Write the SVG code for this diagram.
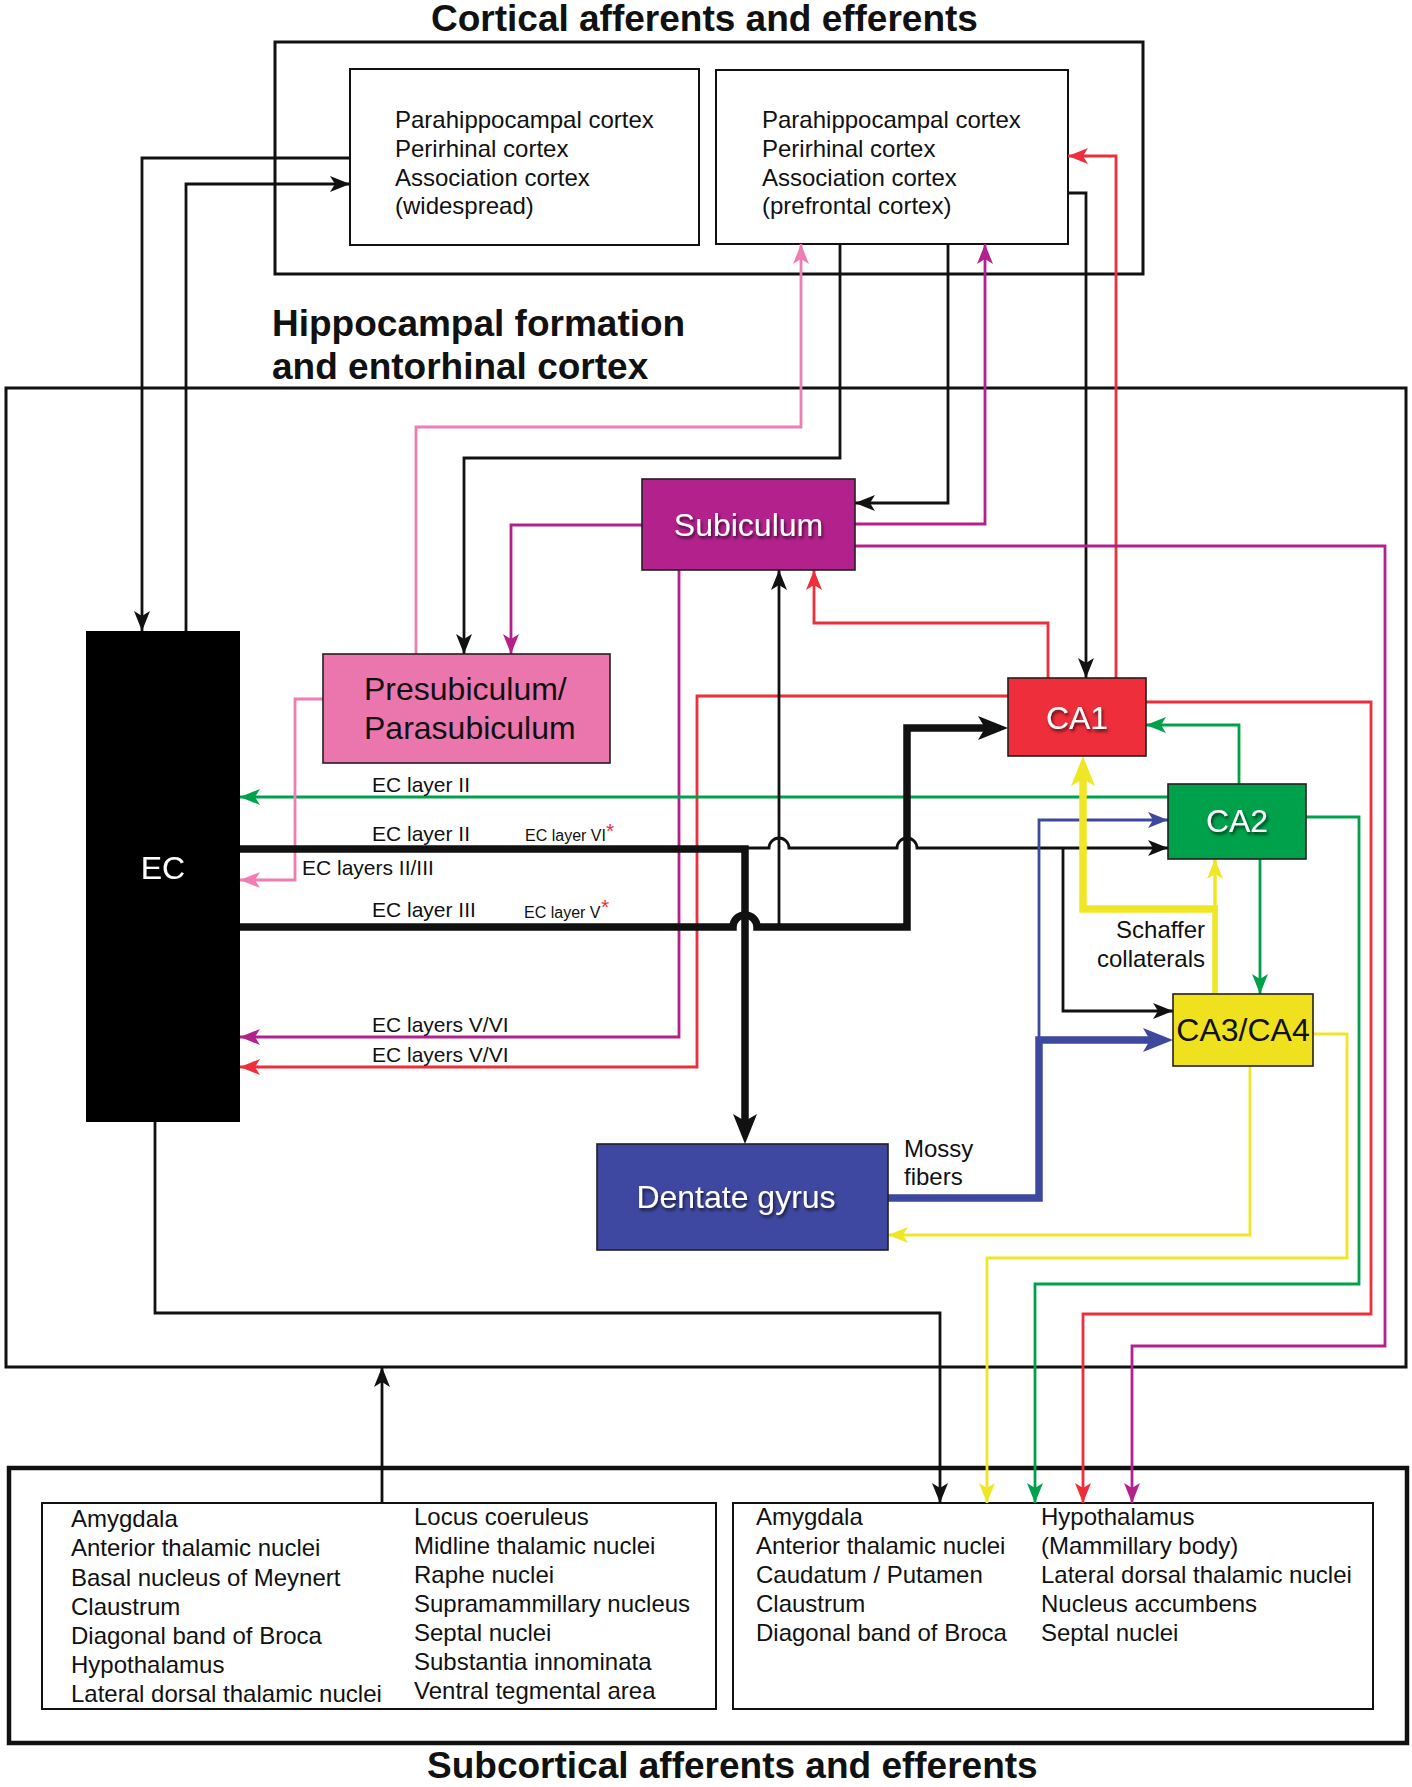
<svg xmlns="http://www.w3.org/2000/svg" width="1412" height="1787" viewBox="0 0 1412 1787">
<style>
.t{font-family:"Liberation Sans",Arial,Helvetica,sans-serif;fill:#111}
.title{font-size:37px;font-weight:bold}
.body{font-size:24px}
.lab{font-size:21px}
.sm{font-size:16px}
.ast{font-size:21px;fill:#EE2E3B}
.nd{font-size:32px}
.wt{fill:#fff;filter:url(#sh)}
.frame{fill:none;stroke:#111}
.ln{fill:none;stroke-width:2.8;stroke-linejoin:miter;stroke-linecap:butt}
.w7{stroke-width:7.5}
.w55{stroke-width:5.5}
.w35{stroke-width:3.5}
.k{stroke:#111}.r{stroke:#EE2E3B}.g{stroke:#00A14B}.p{stroke:#B3218C}.pk{stroke:#EE7DB4}.y{stroke:#F0E626}.b{stroke:#3E489E}
.nb{stroke:#231F20;stroke-width:1.6}
</style>
<defs>
<filter id="sh" x="-20%" y="-20%" width="140%" height="160%"><feDropShadow dx="1.5" dy="2.5" stdDeviation="1.4" flood-color="#000" flood-opacity="0.65"/></filter>
<marker id="aK" viewBox="0 0 20 16" refX="20" refY="8" markerWidth="20" markerHeight="16" markerUnits="userSpaceOnUse" orient="auto"><path d="M0,0 L20,8 L0,16 L5,8 z" fill="#111"/></marker>
<marker id="aR" viewBox="0 0 20 16" refX="20" refY="8" markerWidth="20" markerHeight="16" markerUnits="userSpaceOnUse" orient="auto"><path d="M0,0 L20,8 L0,16 L5,8 z" fill="#EE2E3B"/></marker>
<marker id="aG" viewBox="0 0 20 16" refX="20" refY="8" markerWidth="20" markerHeight="16" markerUnits="userSpaceOnUse" orient="auto"><path d="M0,0 L20,8 L0,16 L5,8 z" fill="#00A14B"/></marker>
<marker id="aP" viewBox="0 0 20 16" refX="20" refY="8" markerWidth="20" markerHeight="16" markerUnits="userSpaceOnUse" orient="auto"><path d="M0,0 L20,8 L0,16 L5,8 z" fill="#B3218C"/></marker>
<marker id="aPk" viewBox="0 0 20 16" refX="20" refY="8" markerWidth="20" markerHeight="16" markerUnits="userSpaceOnUse" orient="auto"><path d="M0,0 L20,8 L0,16 L5,8 z" fill="#EE7DB4"/></marker>
<marker id="aY" viewBox="0 0 20 16" refX="20" refY="8" markerWidth="20" markerHeight="16" markerUnits="userSpaceOnUse" orient="auto"><path d="M0,0 L20,8 L0,16 L5,8 z" fill="#F0E626"/></marker>
<marker id="aB" viewBox="0 0 20 16" refX="20" refY="8" markerWidth="20" markerHeight="16" markerUnits="userSpaceOnUse" orient="auto"><path d="M0,0 L20,8 L0,16 L5,8 z" fill="#3E489E"/></marker>
<marker id="tK" viewBox="0 0 30 24" refX="8" refY="12" markerWidth="30" markerHeight="24" markerUnits="userSpaceOnUse" orient="auto"><path d="M0,0 L30,12 L0,24 L7,12 z" fill="#111"/></marker>
<marker id="tY" viewBox="0 0 30 24" refX="8" refY="12" markerWidth="30" markerHeight="24" markerUnits="userSpaceOnUse" orient="auto"><path d="M0,0 L30,12 L0,24 L7,12 z" fill="#F0E626"/></marker>
<marker id="tB" viewBox="0 0 30 24" refX="8" refY="12" markerWidth="30" markerHeight="24" markerUnits="userSpaceOnUse" orient="auto"><path d="M0,0 L30,12 L0,24 L7,12 z" fill="#3E489E"/></marker>
</defs>
<rect width="1412" height="1787" fill="#fff"/>

<g id="titles" class="t title">
<text x="431" y="31">Cortical afferents and efferents</text>
<text x="272" y="336">Hippocampal formation</text>
<text x="272" y="379">and entorhinal cortex</text>
<text x="427" y="1778">Subcortical afferents and efferents</text>
</g>

<g id="frames">
<rect class="frame" x="275" y="42" width="868" height="232" stroke-width="3"/>
<rect class="frame" x="6" y="388" width="1400" height="979" stroke-width="3"/>
<rect class="frame" x="9" y="1468" width="1398" height="275" stroke-width="4.5"/>
</g>

<g id="cortical-widespread">
<rect x="350" y="69" width="349" height="176" fill="#fff" stroke="#111" stroke-width="2"/>
<g class="t body">
<text x="395" y="128">Parahippocampal cortex</text>
<text x="395" y="157">Perirhinal cortex</text>
<text x="395" y="185.5">Association cortex</text>
<text x="395" y="214">(widespread)</text>
</g>
</g>

<g id="cortical-prefrontal">
<rect x="716" y="70" width="352" height="174" fill="#fff" stroke="#111" stroke-width="2"/>
<g class="t body">
<text x="762" y="128">Parahippocampal cortex</text>
<text x="762" y="157">Perirhinal cortex</text>
<text x="762" y="185.5">Association cortex</text>
<text x="762" y="214">(prefrontal cortex)</text>
</g>
</g>

<g id="subcortical-afferent">
<rect x="42" y="1503" width="674" height="206" fill="#fff" stroke="#111" stroke-width="2"/>
<g class="t body">
<text x="71" y="1527">Amygdala</text>
<text x="71" y="1556">Anterior thalamic nuclei</text>
<text x="71" y="1585.5">Basal nucleus of Meynert</text>
<text x="71" y="1614.5">Claustrum</text>
<text x="71" y="1644">Diagonal band of Broca</text>
<text x="71" y="1673">Hypothalamus</text>
<text x="71" y="1702">Lateral dorsal thalamic nuclei</text>
<text x="414" y="1525">Locus coeruleus</text>
<text x="414" y="1554">Midline thalamic nuclei</text>
<text x="414" y="1583">Raphe nuclei</text>
<text x="414" y="1612">Supramammillary nucleus</text>
<text x="414" y="1641">Septal nuclei</text>
<text x="414" y="1670">Substantia innominata</text>
<text x="414" y="1699">Ventral tegmental area</text>
</g>
</g>

<g id="subcortical-efferent">
<rect x="733" y="1503" width="640" height="206" fill="#fff" stroke="#111" stroke-width="2"/>
<g class="t body">
<text x="756" y="1525">Amygdala</text>
<text x="756" y="1554">Anterior thalamic nuclei</text>
<text x="756" y="1583">Caudatum / Putamen</text>
<text x="756" y="1612">Claustrum</text>
<text x="756" y="1641">Diagonal band of Broca</text>
<text x="1041" y="1525">Hypothalamus</text>
<text x="1041" y="1554">(Mammillary body)</text>
<text x="1041" y="1583">Lateral dorsal thalamic nuclei</text>
<text x="1041" y="1612">Nucleus accumbens</text>
<text x="1041" y="1641">Septal nuclei</text>
</g>
</g>

<g id="connectors">
<path class="ln k" d="M350,158 L142,158 L142,631" marker-end="url(#aK)"/>
<path class="ln k" d="M186,631 L186,184 L350,184" marker-end="url(#aK)"/>
<path class="ln k" d="M1068,193 L1086,193 L1086,678" marker-end="url(#aK)"/>
<path class="ln r" d="M1116,678 L1116,156 L1068,156" marker-end="url(#aR)"/>
<path class="ln k" d="M840,244 L840,458 L464,458 L464,654" marker-end="url(#aK)"/>
<path class="ln k" d="M948,244 L948,503 L855,503" marker-end="url(#aK)"/>
<path class="ln p" d="M855,524 L985,524 L985,244" marker-end="url(#aP)"/>
<path class="ln pk" d="M416,654 L416,427 L801,427 L801,244" marker-end="url(#aPk)"/>
<path class="ln p" d="M642,525 L511,525 L511,654" marker-end="url(#aP)"/>
<path class="ln p" d="M855,546 L1385,546 L1385,1346 L1132,1346 L1132,1503" marker-end="url(#aP)"/>
<path class="ln p" d="M679,570 L679,1037 L240,1037" marker-end="url(#aP)"/>
<path class="ln r" d="M1008,696 L697,696 L697,1067 L240,1067" marker-end="url(#aR)"/>
<path class="ln r" d="M1048,678 L1048,623 L814,623 L814,570" marker-end="url(#aR)"/>
<path class="ln r" d="M1146,702 L1371,702 L1371,1314 L1083,1314 L1083,1503" marker-end="url(#aR)"/>
<path class="ln g" d="M1168,797 L240,797" marker-end="url(#aG)"/>
<path class="ln g" d="M1239,784 L1239,725 L1146,725" marker-end="url(#aG)"/>
<path class="ln g" d="M1260,859 L1260,994" marker-end="url(#aG)"/>
<path class="ln g" d="M1306,817 L1359,817 L1359,1284 L1035,1284 L1035,1503" marker-end="url(#aG)"/>
<path class="ln pk" d="M323,699 L295,699 L295,880 L240,880" marker-end="url(#aPk)"/>
<path class="ln y" d="M1250,1066 L1250,1235 L888,1235" marker-end="url(#aY)"/>
<path class="ln y" d="M1313,1034 L1347,1034 L1347,1258 L987,1258 L987,1503" marker-end="url(#aY)"/>
<path class="ln k" d="M745,848 L769,848 A10,10 0 0 1 789,848 L897,848 A10,10 0 0 1 917,848 L1168,848" marker-end="url(#aK)"/>
<path class="ln k" d="M1063,848 L1063,1011 L1173,1011" marker-end="url(#aK)"/>
<path class="ln b" d="M1039,1040 L1039,820 L1168,820" marker-end="url(#aB)"/>
<path class="ln b w7" d="M888,1198 L1039,1198 L1039,1040 L1151,1040" marker-end="url(#tB)"/>
<path class="ln y w55" d="M1215,994 L1215,909"/>
<path class="ln y w35" d="M1215,909 L1215,859" marker-end="url(#aY)"/>
<path class="ln y w7" d="M1218,909 L1083,909 L1083,778" marker-end="url(#tY)"/>
<path class="ln k" d="M779,927 L779,570" marker-end="url(#aK)"/>
<path class="ln k w7" d="M240,849 L745,849 L745,1122" marker-end="url(#tK)"/>
<path class="ln k w7" d="M240,927 L733,927 A12,12 0 0 1 757,927 L907,927 L907,728 L986,728" marker-end="url(#tK)"/>
<path class="ln k" d="M155,1122 L155,1313 L940,1313 L940,1503" marker-end="url(#aK)"/>
<path class="ln k" d="M382,1503 L382,1367" marker-end="url(#aK)"/>

<g id="labels" class="t">
<text class="lab" x="372" y="792">EC layer II</text>
<text class="lab" x="372" y="841">EC layer II</text>
<text class="sm" x="525" y="841">EC layer VI</text>
<text class="ast" x="606" y="838">*</text>
<text class="lab" x="302" y="875">EC layers II/III</text>
<text class="lab" x="372" y="917">EC layer III</text>
<text class="sm" x="524" y="918">EC layer V</text>
<text class="ast" x="601" y="914">*</text>
<text class="lab" x="372" y="1032">EC layers V/VI</text>
<text class="lab" x="372" y="1062">EC layers V/VI</text>
<text class="body" x="1205" y="938" text-anchor="end">Schaffer</text>
<text class="body" x="1205" y="967" text-anchor="end">collaterals</text>
<text class="body" x="904" y="1157">Mossy</text>
<text class="body" x="904" y="1185">fibers</text>
</g>
</g>

<g id="EC">
<rect x="86" y="631" width="154" height="491" fill="#000"/>
<text class="t nd wt" x="163" y="879" text-anchor="middle">EC</text>
</g>

<g id="presubiculum">
<rect class="nb" x="323" y="654" width="287" height="109" fill="#EA76AD"/>
<text class="t nd" x="364" y="700">Presubiculum/</text>
<text class="t nd" x="364" y="739">Parasubiculum</text>
</g>

<g id="subiculum">
<rect class="nb" x="642" y="479" width="213" height="91" fill="#B3218C"/>
<text class="t nd wt" x="748.5" y="536" text-anchor="middle">Subiculum</text>
</g>

<g id="CA1">
<rect class="nb" x="1008" y="678" width="138" height="78" fill="#EE2E3B"/>
<text class="t nd wt" x="1077" y="729" text-anchor="middle">CA1</text>
</g>

<g id="CA2">
<rect class="nb" x="1168" y="784" width="138" height="75" fill="#00A14B"/>
<text class="t nd wt" x="1237" y="832" text-anchor="middle">CA2</text>
</g>

<g id="CA3">
<rect class="nb" x="1173" y="994" width="140" height="72" fill="#EFE11E"/>
<text class="t nd" x="1243" y="1041" text-anchor="middle">CA3/CA4</text>
</g>

<g id="dentate-gyrus">
<rect class="nb" x="597" y="1144" width="291" height="106" fill="#3F48A0"/>
<text class="t nd wt" x="736" y="1208" text-anchor="middle">Dentate gyrus</text>
</g>
</svg>
